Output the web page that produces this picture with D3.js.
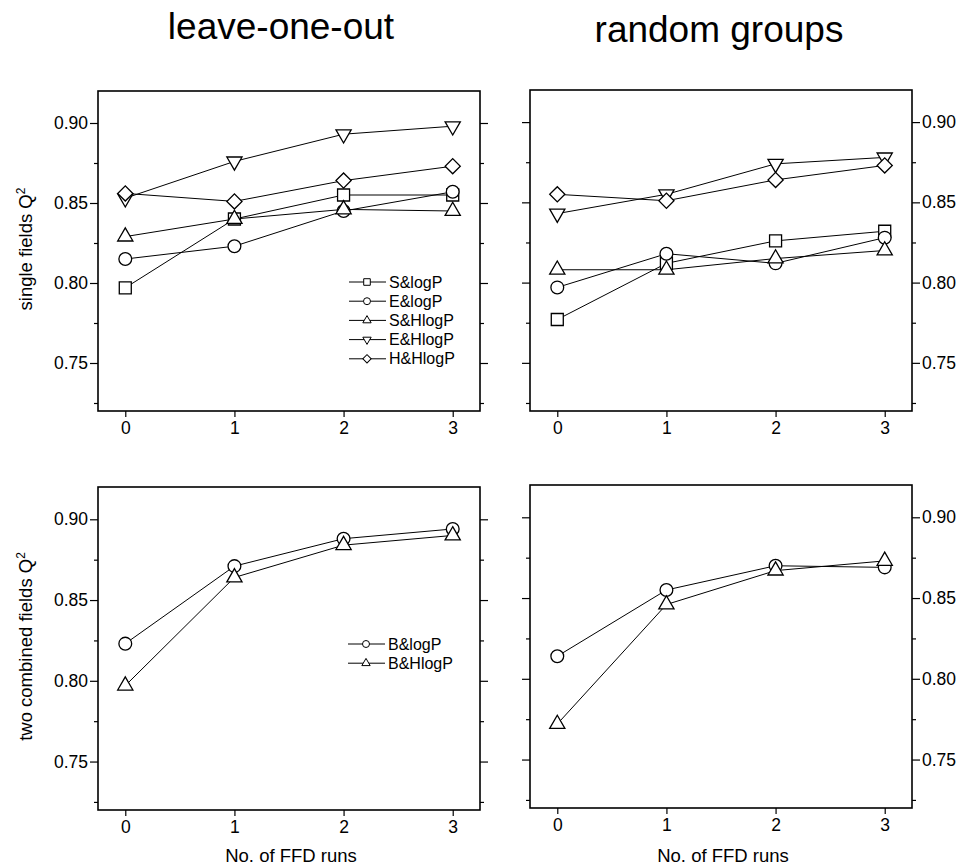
<!DOCTYPE html>
<html>
<head>
<meta charset="utf-8">
<script src="https://cdn.jsdelivr.net/npm/d3@7"></script>
<style>
  body { margin: 0; background: #fff; }
  svg { font-family: "Liberation Sans", Arial, sans-serif; }
  .axis text { font-size: 17.5px; fill: #000; }
  .axis line { stroke: #000; stroke-width: 1.2; }
  .axis path { display: none; }
</style>
</head>
<body>
<div id="container"></div>
<script>
const w = 960;
const h = 867;

const runs = [0, 1, 2, 3];
const majorTicks = [0.75, 0.80, 0.85, 0.90];
const minorTicks = [0.725, 0.775, 0.825, 0.875];

// leave-one-out, single fields
const looSlogP = [0.797, 0.840, 0.855, 0.855];
const looElogP = [0.815, 0.823, 0.845, 0.857];
const looSHlogP = [0.829, 0.840, 0.846, 0.845];
const looEHlogP = [0.853, 0.876, 0.893, 0.898];
const looHHlogP = [0.856, 0.851, 0.864, 0.873];

// random groups, single fields
const rgSlogP = [0.777, 0.812, 0.826, 0.832];
const rgElogP = [0.797, 0.818, 0.812, 0.828];
const rgSHlogP = [0.808, 0.808, 0.815, 0.820];
const rgEHlogP = [0.843, 0.855, 0.874, 0.878];
const rgHHlogP = [0.855, 0.851, 0.864, 0.873];

// two combined fields
const looBlogP = [0.823, 0.871, 0.888, 0.894];
const looBHlogP = [0.797, 0.864, 0.884, 0.890];
const rgBlogP = [0.814, 0.855, 0.870, 0.869];
const rgBHlogP = [0.772, 0.846, 0.867, 0.873];

const singleNames = ['S&logP', 'E&logP', 'S&HlogP', 'E&HlogP', 'H&HlogP'];
const singleShapes = ['square', 'circle', 'up', 'down', 'diamond'];
const combNames = ['B&logP', 'B&HlogP'];
const combShapes = ['circle', 'up'];

const svg = d3.select('#container').append('svg')
  .attr('width', w)
  .attr('height', h);

// marker path for a shape, scaled by k
const markerPath = (shape, k) => {
  if (shape === 'circle') return d3.symbol(d3.symbolCircle, 128 * k)();
  if (shape === 'square') return d3.symbol(d3.symbolSquare, 144 * k)();
  if (shape === 'diamond') return d3.symbol(d3.symbolSquare, 115 * k)();
  return d3.symbol(d3.symbolTriangle, 100 * k)();
};
const markerRot = shape => shape === 'down' ? 180 : shape === 'diamond' ? 45 : 0;

const panels = [
  { x0: 98, x1: 480, y0: 91, y1: 411, side: 'left', series: [looSlogP, looElogP, looSHlogP, looEHlogP, looHHlogP],
    shapes: singleShapes, names: singleNames, legend: [349, 282], ylabel: 'single fields Q', xlabel: null },
  { x0: 530, x1: 912, y0: 90, y1: 411, side: 'right', series: [rgSlogP, rgElogP, rgSHlogP, rgEHlogP, rgHHlogP],
    shapes: singleShapes, names: null, xlabel: null },
  { x0: 98, x1: 480, y0: 487, y1: 810, side: 'left', series: [looBlogP, looBHlogP],
    shapes: combShapes, names: combNames, legend: [348, 644], ylabel: 'two combined fields Q', xlabel: 'No. of FFD runs' },
  { x0: 530, x1: 912, y0: 485, y1: 808, side: 'right', series: [rgBlogP, rgBHlogP],
    shapes: combShapes, names: null, xlabel: 'No. of FFD runs' }
];

panels.forEach(p => {
  const x = d3.scaleLinear().domain([-0.25, 3.25]).range([p.x0, p.x1]);
  const y = d3.scaleLinear().domain([0.72, 0.92]).range([p.y1, p.y0]);
  const g = svg.append('g');

  // labelled y axis (outward) and mirrored axis (inward)
  const outX = p.side === 'left' ? p.x0 : p.x1;
  const inX = p.side === 'left' ? p.x1 : p.x0;
  const yAxis = p.side === 'left' ? d3.axisLeft : d3.axisRight;

  g.append('g').attr('class', 'axis')
    .attr('transform', `translate(${outX},0)`)
    .call(yAxis(y).tickValues(majorTicks).tickFormat(d3.format('.2f')).tickSize(8).tickPadding(2));
  g.append('g').attr('class', 'axis')
    .attr('transform', `translate(${outX},0)`)
    .call(yAxis(y).tickValues(minorTicks).tickFormat('').tickSize(4));
  g.append('g').attr('class', 'axis')
    .attr('transform', `translate(${inX},0)`)
    .call(yAxis(y).tickValues(majorTicks).tickFormat('').tickSize(-8));
  g.append('g').attr('class', 'axis')
    .attr('transform', `translate(${inX},0)`)
    .call(yAxis(y).tickValues(minorTicks).tickFormat('').tickSize(-4));

  g.append('g').attr('class', 'axis')
    .attr('transform', `translate(0,${p.y1})`)
    .call(d3.axisBottom(x).tickValues(runs).tickFormat(d3.format('d')).tickSize(6).tickPadding(5));

  g.append('rect')
    .attr('x', p.x0).attr('y', p.y0)
    .attr('width', p.x1 - p.x0).attr('height', p.y1 - p.y0)
    .attr('fill', 'none').attr('stroke', '#000').attr('stroke-width', 1.6);

  const line = d3.line().x((d, i) => x(runs[i])).y(d => y(d));

  p.series.forEach(s => {
    g.append('path').datum(s)
      .attr('fill', 'none').attr('stroke', '#000').attr('stroke-width', 1)
      .attr('d', line);
  });
  p.series.forEach((s, si) => {
    g.selectAll(null).data(s).enter().append('path')
      .attr('transform', (d, i) => `translate(${x(runs[i])},${y(d)}) rotate(${markerRot(p.shapes[si])})`)
      .attr('d', markerPath(p.shapes[si], 1))
      .attr('fill', '#fff').attr('stroke', '#000').attr('stroke-width', 1.3);
  });

  if (p.names) {
    const lg = g.append('g');
    p.names.forEach((n, i) => {
      const ly = p.legend[1] + i * 19.2;
      lg.append('line')
        .attr('x1', p.legend[0]).attr('x2', p.legend[0] + 37)
        .attr('y1', ly).attr('y2', ly)
        .attr('stroke', '#000').attr('stroke-width', 1);
      lg.append('path')
        .attr('transform', `translate(${p.legend[0] + 18},${ly}) rotate(${markerRot(p.shapes[i])})`)
        .attr('d', markerPath(p.shapes[i], 0.3))
        .attr('fill', '#fff').attr('stroke', '#000').attr('stroke-width', 1);
      lg.append('text')
        .attr('x', p.legend[0] + 40).attr('y', ly + 5.5)
        .style('font-size', '16px')
        .text(n);
    });
  }

  if (p.ylabel) {
    const t = g.append('text')
      .attr('transform', `translate(32,${(p.y0 + p.y1) / 2 - 2}) rotate(-90)`)
      .attr('text-anchor', 'middle')
      .style('font-size', '18.5px');
    t.append('tspan').text(p.ylabel);
    t.append('tspan').attr('dy', '-0.55em').style('font-size', '12px').text('2');
  }

  if (p.xlabel) {
    g.append('text')
      .attr('x', (p.x0 + p.x1) / 2 + 2)
      .attr('y', 862)
      .attr('text-anchor', 'middle')
      .style('font-size', '18.5px')
      .text(p.xlabel);
  }
});

svg.append('text')
  .attr('x', 281).attr('y', 39)
  .attr('text-anchor', 'middle')
  .style('font-size', '37px')
  .text('leave-one-out');

svg.append('text')
  .attr('x', 719).attr('y', 42)
  .attr('text-anchor', 'middle')
  .style('font-size', '37px')
  .text('random groups');
</script>
</body>
</html>
